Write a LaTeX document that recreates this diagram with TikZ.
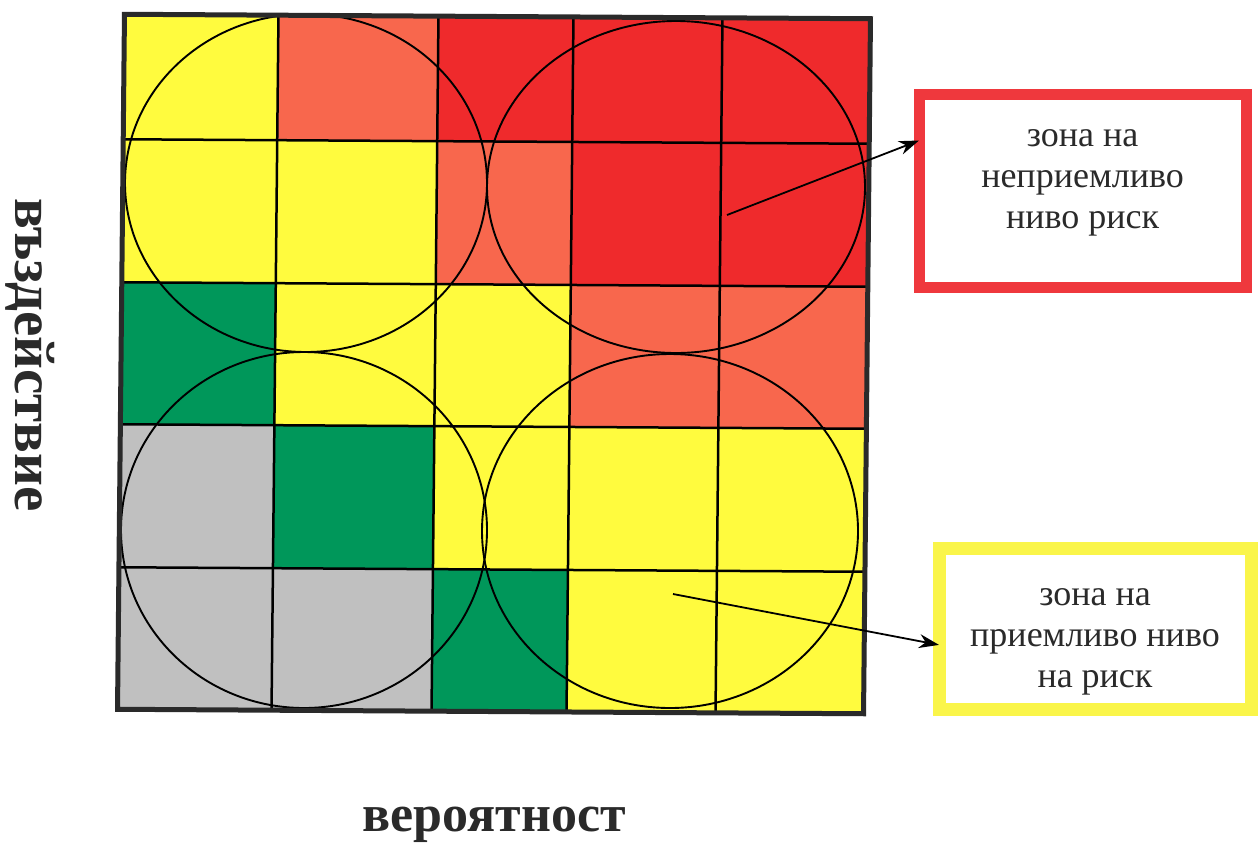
\documentclass[tikz,border=0pt]{standalone}
\usepackage{fontspec}
\setmainfont{Liberation Serif}
\usetikzlibrary{arrows.meta}
\definecolor{cyel}{HTML}{FFFB3E}
\definecolor{csal}{HTML}{F8674D}
\definecolor{cred}{HTML}{EF2A2C}
\definecolor{cgrn}{HTML}{00975A}
\definecolor{cgry}{HTML}{C0C0C0}
\definecolor{bred}{HTML}{EF383D}
\definecolor{byel}{HTML}{FAF54A}
\definecolor{ink}{HTML}{2A2A2A}
\tikzset{
  gridline/.style={draw=black, line width=2.5pt},
  frameline/.style={draw=ink, line width=5pt},
  ring/.style={draw=black, line width=1.9pt},
  zonebox/.style={draw, fill=white, outer sep=0pt},
  zonetext/.style={align=center, text=ink, font=\fontsize{36}{41}\selectfont},
  connector/.style={draw=black, line width=1.8pt, -{Stealth[length=20pt,width=14pt]}},
  axislabel/.style={text=ink, font=\fontsize{52}{60}\selectfont\bfseries},
  skewgrid/.style={cm={1,-0.006,0.01,1,(3.62pt,1.46pt)}}
}
\begin{document}
\begin{tikzpicture}[x=1pt,y=-1pt]
\useasboundingbox (0,0) rectangle (1258,849);
\begin{scope}[skewgrid]
% row 1
\fill[cyel] (121,15) rectangle (275,140);
\fill[csal] (275,15) rectangle (435,140);
\fill[cred] (435,15) rectangle (570,140);
\fill[cred] (570,15) rectangle (719,140);
\fill[cred] (719,15) rectangle (867,140);
% row 2
\fill[cyel] (121,140) rectangle (275,283);
\fill[cyel] (275,140) rectangle (435,283);
\fill[csal] (435,140) rectangle (570,283);
\fill[cred] (570,140) rectangle (719,283);
\fill[cred] (719,140) rectangle (867,283);
% row 3
\fill[cgrn] (121,283) rectangle (275,425);
\fill[cyel] (275,283) rectangle (435,425);
\fill[cyel] (435,283) rectangle (570,425);
\fill[csal] (570,283) rectangle (719,425);
\fill[csal] (719,283) rectangle (867,425);
% row 4
\fill[cgry] (121,425) rectangle (275,568);
\fill[cgrn] (275,425) rectangle (435,568);
\fill[cyel] (435,425) rectangle (570,568);
\fill[cyel] (570,425) rectangle (719,568);
\fill[cyel] (719,425) rectangle (867,568);
% row 5
\fill[cgry] (121,568) rectangle (275,710);
\fill[cgry] (275,568) rectangle (435,710);
\fill[cgrn] (435,568) rectangle (570,710);
\fill[cyel] (570,568) rectangle (719,710);
\fill[cyel] (719,568) rectangle (867,710);
% grid
\foreach \gx in {275,435,570,719} \draw[gridline] (\gx,15) -- (\gx,710);
\foreach \gy in {140,283,425,568} \draw[gridline] (121,\gy) -- (867,\gy);
\end{scope}
% circles
\draw[ring] (306,183) ellipse [x radius=181, y radius=169];
\draw[ring] (676,187) ellipse [x radius=189, y radius=166];
\draw[ring] (304,530) ellipse [x radius=183, y radius=178];
\draw[ring] (670,531) ellipse [x radius=188, y radius=177];
% frame
\begin{scope}[skewgrid]
\draw[frameline] (121,15) rectangle (867,710);
\end{scope}
% boxes
\node[zonebox, draw=bred, line width=11pt, minimum width=327pt, minimum height=193pt] (red) at (1082.5,190.5) {};
\node[zonetext] (redtext) at (1082.5,183) {зона на\\неприемливо\\ниво риск};
\node[zonebox, draw=byel, line width=13pt, minimum width=312pt, minimum height=161pt] (yel) at (1095,628.5) {};
\node[zonetext] (yeltext) at (1095,642) {зона на\\приемливо ниво\\на риск};
% connectors
\coordinate (s1) at (727,215);
\coordinate (s2) at (673,594);
\draw[connector] (s1) -- (red.163.5);
\draw[connector] (s2) -- (yel.186.3);
% axis labels
\node[axislabel] (xlab) at (494,825) {вероятност};
\node[axislabel, font=\fontsize{57}{64}\selectfont\bfseries, rotate=-90] (ylab) at (30,355) {въздействие};
\end{tikzpicture}
\end{document}
